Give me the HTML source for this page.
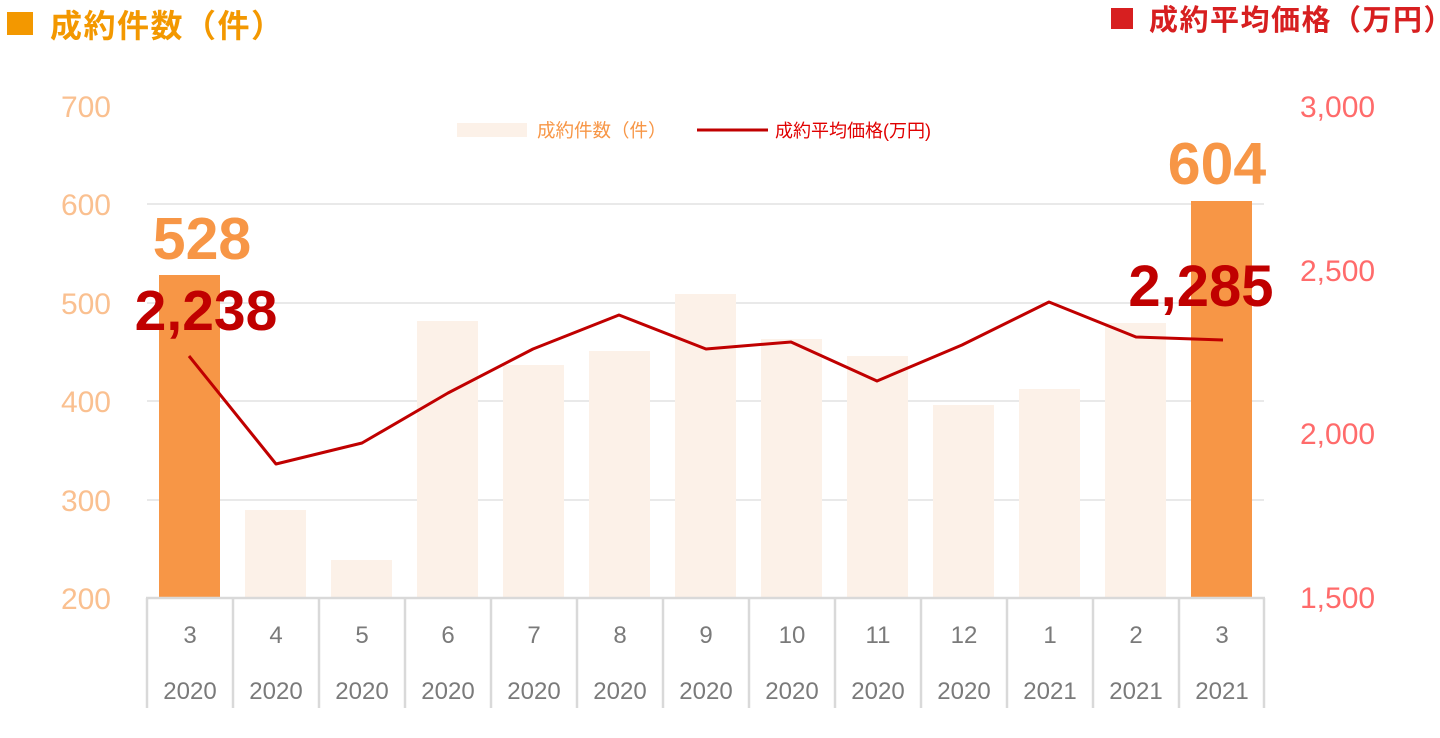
<!DOCTYPE html>
<html>
<head>
<meta charset="utf-8">
<style>
  html,body{margin:0;padding:0;background:#fff;}
  svg{display:block;}
  .ax{font-family:"Liberation Sans","Noto Sans CJK JP",sans-serif;}
  .cjk{font-family:"Liberation Sans","Noto Sans CJK JP",sans-serif;}
</style>
</head>
<body>
<svg width="1440" height="738" viewBox="0 0 1440 738" xmlns="http://www.w3.org/2000/svg">
  <!-- Titles -->
  <rect x="7" y="12" width="26" height="23" fill="#f39800"/>
  <text class="cjk" x="50" y="37" font-size="32" font-weight="bold" fill="#f39800" letter-spacing="1.5">成約件数（件）</text>
  <rect x="1111" y="8" width="22" height="21" fill="#d71f20"/>
  <text class="cjk" x="1149" y="30" font-size="29" font-weight="bold" fill="#d71f20" letter-spacing="1.5">成約平均価格（万円）</text>

  <!-- gridlines -->
  <g stroke="#dcdcdc" stroke-width="1.3">
    <line x1="147" y1="204" x2="1264" y2="204"/>
    <line x1="147" y1="303" x2="1264" y2="303"/>
    <line x1="147" y1="401" x2="1264" y2="401"/>
    <line x1="147" y1="500" x2="1264" y2="500"/>
  </g>

  <!-- bars -->
  <g fill="#fcf1e8">
    <rect x="245" y="510" width="61" height="88"/>
    <rect x="331" y="560" width="61" height="38"/>
    <rect x="417" y="321" width="61" height="277"/>
    <rect x="503" y="365" width="61" height="233"/>
    <rect x="589" y="351" width="61" height="247"/>
    <rect x="675" y="294" width="61" height="304"/>
    <rect x="761" y="339" width="61" height="259"/>
    <rect x="847" y="356" width="61" height="242"/>
    <rect x="933" y="405" width="61" height="193"/>
    <rect x="1019" y="389" width="61" height="209"/>
    <rect x="1105" y="323" width="61" height="275"/>
  </g>
  <rect x="159" y="275" width="61" height="323" fill="#f79646"/>
  <rect x="1191" y="201" width="61" height="397" fill="#f79646"/>

  <!-- axis & category ticks -->
  <g stroke="#d9d9d9" stroke-width="2.5">
    <line x1="146" y1="598" x2="1265" y2="598"/>
    <line x1="147" y1="598" x2="147" y2="708"/>
    <line x1="233" y1="598" x2="233" y2="708"/>
    <line x1="319" y1="598" x2="319" y2="708"/>
    <line x1="405" y1="598" x2="405" y2="708"/>
    <line x1="491" y1="598" x2="491" y2="708"/>
    <line x1="577" y1="598" x2="577" y2="708"/>
    <line x1="663" y1="598" x2="663" y2="708"/>
    <line x1="749" y1="598" x2="749" y2="708"/>
    <line x1="835" y1="598" x2="835" y2="708"/>
    <line x1="921" y1="598" x2="921" y2="708"/>
    <line x1="1007" y1="598" x2="1007" y2="708"/>
    <line x1="1093" y1="598" x2="1093" y2="708"/>
    <line x1="1179" y1="598" x2="1179" y2="708"/>
    <line x1="1264" y1="598" x2="1264" y2="708"/>
  </g>

  <!-- category labels -->
  <g class="ax" font-size="24" fill="#7a7a7a" text-anchor="middle">
    <text x="190" y="643">3</text>
    <text x="276" y="643">4</text>
    <text x="362" y="643">5</text>
    <text x="448" y="643">6</text>
    <text x="534" y="643">7</text>
    <text x="620" y="643">8</text>
    <text x="706" y="643">9</text>
    <text x="792" y="643">10</text>
    <text x="878" y="643">11</text>
    <text x="964" y="643">12</text>
    <text x="1050" y="643">1</text>
    <text x="1136" y="643">2</text>
    <text x="1222" y="643">3</text>
    <text x="190" y="699">2020</text>
    <text x="276" y="699">2020</text>
    <text x="362" y="699">2020</text>
    <text x="448" y="699">2020</text>
    <text x="534" y="699">2020</text>
    <text x="620" y="699">2020</text>
    <text x="706" y="699">2020</text>
    <text x="792" y="699">2020</text>
    <text x="878" y="699">2020</text>
    <text x="964" y="699">2020</text>
    <text x="1050" y="699">2021</text>
    <text x="1136" y="699">2021</text>
    <text x="1222" y="699">2021</text>
  </g>

  <!-- left axis -->
  <g class="ax" font-size="30" fill="#fac090" text-anchor="end">
    <text x="111" y="117">700</text>
    <text x="111" y="215">600</text>
    <text x="111" y="314">500</text>
    <text x="111" y="412">400</text>
    <text x="111" y="511">300</text>
    <text x="111" y="609">200</text>
  </g>
  <!-- right axis -->
  <g class="ax" font-size="30" fill="#ff6b6b" text-anchor="start">
    <text x="1300" y="117">3,000</text>
    <text x="1300" y="281">2,500</text>
    <text x="1300" y="444">2,000</text>
    <text x="1300" y="608">1,500</text>
  </g>

  <!-- legend -->
  <rect x="457" y="123" width="70" height="14" fill="#fcf1e8"/>
  <text class="cjk" x="537" y="137" font-size="18.5" fill="#f79646">成約件数（件）</text>
  <line x1="697" y1="130" x2="768" y2="130" stroke="#c00000" stroke-width="3"/>
  <text class="cjk" x="775" y="137" font-size="18" fill="#e00000">成約平均価格(万円)</text>

  <!-- line series -->
  <polyline fill="none" stroke="#c00000" stroke-width="3" stroke-linejoin="round"
    points="189,356 276,464 362,443 448,393 533,349 619,315 706,349 791,342 877,381 962,345 1049,302 1136,337 1223,340"/>

  <!-- big data labels -->
  <g class="ax" font-weight="bold" text-anchor="middle">
    <text x="202" y="259" font-size="59" fill="#f79646">528</text>
    <text x="1217" y="184" font-size="59" fill="#f79646">604</text>
    <text x="206" y="330" font-size="57" fill="#c00000">2,238</text>
    <text x="1201" y="306" font-size="58" fill="#c00000">2,285</text>
  </g>
</svg>
</body>
</html>
